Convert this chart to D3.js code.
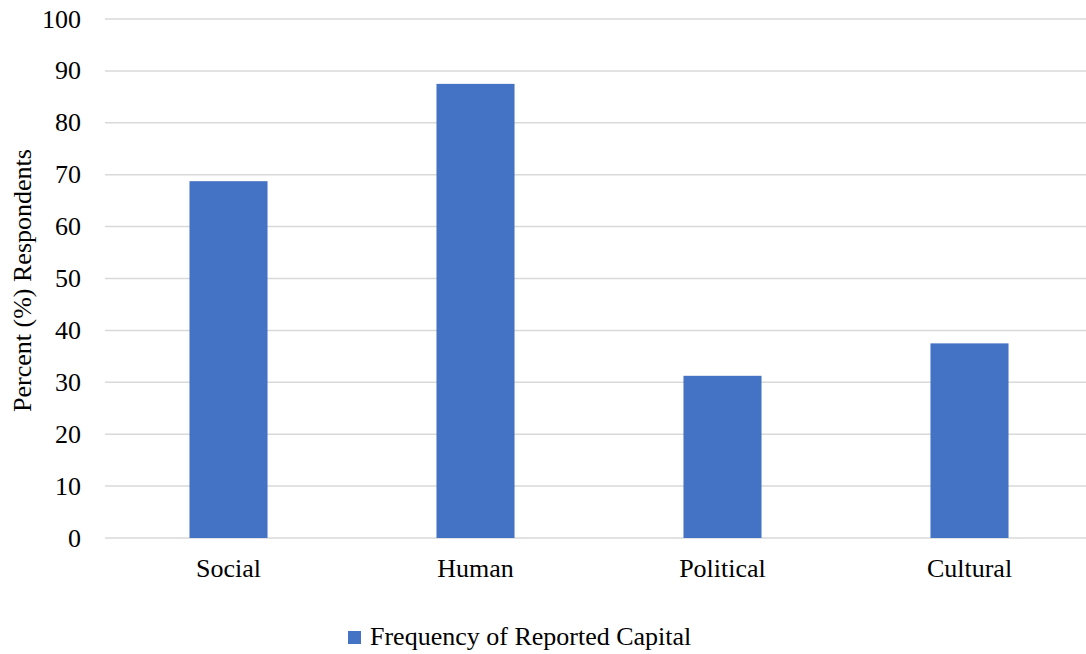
<!DOCTYPE html>
<html>
<head>
<meta charset="utf-8">
<script src="https://cdn.jsdelivr.net/npm/d3@7"></script>
<style>
  body { margin: 0; background: #fff; }
</style>
</head>
<body>
<div id="chart"></div>
<script>
// data
const categories = ["Social", "Human", "Political", "Cultural"];
const values = [68.75, 87.5, 31.25, 37.5];
const yTicks = [0, 10, 20, 30, 40, 50, 60, 70, 80, 90, 100];
const seriesName = "Frequency of Reported Capital";

const width = 1086, height = 654;
const margin = {top: 19, left: 105, bottom: 116, right: -7};
const barColor = "#4472C4";
const font = "'Liberation Serif'";
const fontSize = "26px";

const svg = d3.select("#chart")
  .append("svg")
    .attr("width", width)
    .attr("height", height);

const x = d3.scaleBand()
  .domain(categories)
  .range([margin.left, width - margin.right])
  .paddingInner(0.684)
  .paddingOuter(0.342);

const y = d3.scaleLinear()
  .domain([0, 100])
  .range([height - margin.bottom, margin.top]);

// gridlines
svg.append("g")
  .selectAll("line")
  .data(yTicks)
  .join("line")
    .attr("x1", margin.left)
    .attr("x2", width)
    .attr("y1", d => y(d))
    .attr("y2", d => y(d))
    .attr("stroke", "#d9d9d9")
    .attr("stroke-width", 1.5);

// y tick labels
svg.append("g")
  .selectAll("text")
  .data(yTicks)
  .join("text")
    .attr("x", 81)
    .attr("y", d => y(d))
    .attr("dy", "0.33em")
    .attr("text-anchor", "end")
    .style("font-family", font)
    .style("font-size", fontSize)
    .text(d => d);

// bars
svg.append("g")
  .selectAll("rect")
  .data(values)
  .join("rect")
    .attr("x", (d, i) => x(categories[i]))
    .attr("width", x.bandwidth())
    .attr("y", d => y(d))
    .attr("height", d => y(0) - y(d))
    .attr("fill", barColor);

// category labels
svg.append("g")
  .selectAll("text")
  .data(categories)
  .join("text")
    .attr("x", d => x(d) + x.bandwidth() / 2)
    .attr("y", 577)
    .attr("text-anchor", "middle")
    .style("font-family", font)
    .style("font-size", fontSize)
    .text(d => d);

// y axis title
svg.append("text")
  .attr("transform", `translate(31,${(y(0) + y(100)) / 2 + 2}) rotate(-90)`)
  .attr("text-anchor", "middle")
  .style("font-family", font)
  .style("font-size", fontSize)
  .text("Percent (%) Respondents");

// legend
const legend = svg.append("g").attr("transform", "translate(348,631)");
legend.append("rect")
  .attr("width", 13)
  .attr("height", 13)
  .attr("fill", barColor);
legend.append("text")
  .attr("x", 22)
  .attr("y", 14)
  .style("font-family", font)
  .style("font-size", fontSize)
  .text(seriesName);
</script>
</body>
</html>
